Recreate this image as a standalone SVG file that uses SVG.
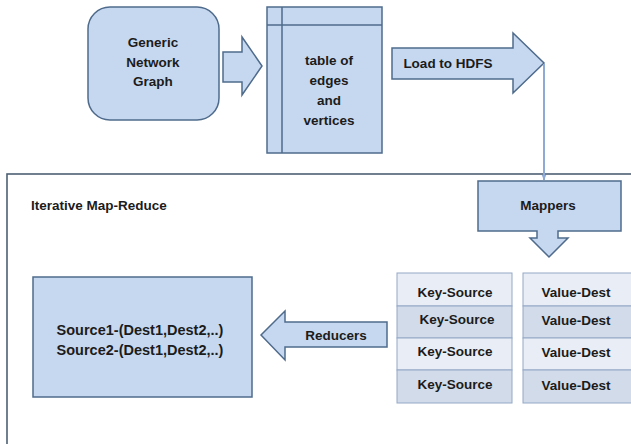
<svg xmlns="http://www.w3.org/2000/svg" width="631" height="444" viewBox="0 0 631 444">
<defs>
<style>
.shape{fill:#c6d8f0;stroke:#4f6b8c;stroke-width:1.5}
.t{font-family:"Liberation Sans",Arial,sans-serif;font-weight:bold;font-size:13.5px;fill:#1c1c1c;text-anchor:middle;dominant-baseline:central}
.big{font-size:14.5px}
.cl{fill:#e9eef6;stroke:#93a8c6;stroke-width:1}
.cd{fill:#d1dbea;stroke:#93a8c6;stroke-width:1}
</style>
<marker id="ah" viewBox="0 0 10 10" refX="9" refY="5" markerWidth="6" markerHeight="6" orient="auto" markerUnits="userSpaceOnUse">
<path d="M0,1 L10,5 L0,9 z" fill="#8eaad6"/>
</marker>
</defs>
<rect width="631" height="444" fill="#ffffff"/>
<g id="frame">
<rect x="7" y="174" width="640" height="300" fill="none" stroke="#4e6074" stroke-width="1.6"/>
<text class="t" x="31" y="205" style="text-anchor:start">Iterative Map-Reduce</text>
</g>
<g id="generic-network-graph">
<rect class="shape" x="88" y="7" width="131" height="113" rx="22" ry="22"/>
<text class="t" x="153" y="42">Generic</text>
<text class="t" x="153" y="62">Network</text>
<text class="t" x="153" y="81">Graph</text>
</g>
<g id="table">
<rect class="shape" x="267" y="7" width="115" height="146"/>
<line x1="282" y1="7" x2="282" y2="153" stroke="#4f6b8c" stroke-width="1.5"/>
<line x1="267" y1="25" x2="382" y2="25" stroke="#4f6b8c" stroke-width="1.5"/>
<text class="t" x="329" y="60">table of</text>
<text class="t" x="329" y="80">edges</text>
<text class="t" x="329" y="100">and</text>
<text class="t" x="329" y="120">vertices</text>
</g>
<g id="mappers">
<path class="shape" d="M478,181 H621 V231 H558 V238 H568 L549,257 L530,238 H537 V231 H478 Z"/>
<text class="t" x="548" y="205">Mappers</text>
</g>
<g id="key-value">
<rect class="cl" x="397" y="273" width="115" height="33"/>
<rect class="cd" x="397" y="306" width="115" height="32"/>
<rect class="cl" x="397" y="338" width="115" height="32"/>
<rect class="cd" x="397" y="370" width="115" height="33"/>
<rect class="cl" x="523" y="273" width="115" height="33"/>
<rect class="cd" x="523" y="306" width="115" height="32"/>
<rect class="cl" x="523" y="338" width="115" height="32"/>
<rect class="cd" x="523" y="370" width="115" height="33"/>
<text class="t" x="455" y="292">Key-Source</text>
<text class="t" x="457" y="319">Key-Source</text>
<text class="t" x="455" y="351">Key-Source</text>
<text class="t" x="455" y="384">Key-Source</text>
<text class="t" x="576" y="292">Value-Dest</text>
<text class="t" x="576" y="320">Value-Dest</text>
<text class="t" x="576" y="352">Value-Dest</text>
<text class="t" x="576" y="385">Value-Dest</text>
</g>
<g id="result">
<rect class="shape" x="33" y="277" width="219" height="120"/>
<text class="t big" x="140" y="330">Source1-(Dest1,Dest2,..)</text>
<text class="t big" x="140" y="350">Source2-(Dest1,Dest2,..)</text>
</g>
<g id="connectors">
<path class="shape" d="M223,52 H242 V37 L262,66 L242,95 V82 H223 Z"/>
<path class="shape" d="M392,48 H513 V33 L544,63 L513,93 V79 H392 Z"/>
<text class="t" x="448" y="63">Load to HDFS</text>
<line x1="544" y1="64" x2="544" y2="180" stroke="#8eaad6" stroke-width="2" marker-end="url(#ah)"/>
<path class="shape" d="M387,322 H285 V311 L261,335 L285,360 V347 H387 Z"/>
<text class="t" x="336" y="335">Reducers</text>
</g>
</svg>
